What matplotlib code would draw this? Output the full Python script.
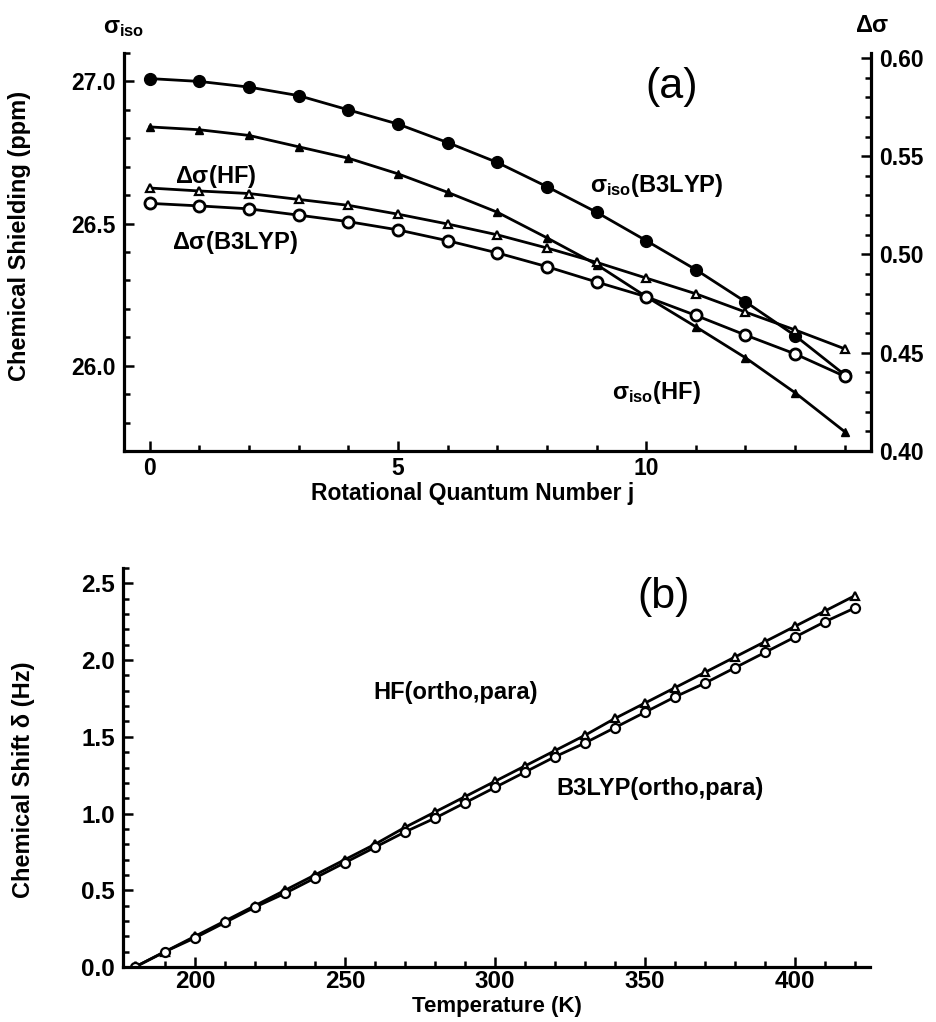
import matplotlib
matplotlib.use('Agg')
import matplotlib.pyplot as plt
from matplotlib.ticker import MultipleLocator

plt.rcParams['font.family'] = ['Liberation Sans', 'DejaVu Sans']
plt.rcParams['font.weight'] = 'bold'
plt.rcParams['mathtext.fontset'] = 'custom'
plt.rcParams['mathtext.rm'] = 'Liberation Sans:bold'
plt.rcParams['mathtext.it'] = 'Liberation Sans:bold'
plt.rcParams['mathtext.bf'] = 'Liberation Sans:bold'

# panel (a): shielding vs rotational quantum number j
j = list(range(15))
iso_b3lyp = [27.01, 27.00, 26.98, 26.95, 26.90, 26.85, 26.785, 26.715, 26.63,
             26.54, 26.44, 26.338, 26.225, 26.106, 25.968]
iso_hf = [26.84, 26.83, 26.81, 26.77, 26.73, 26.675, 26.61, 26.54, 26.45,
          26.356, 26.243, 26.137, 26.028, 25.905, 25.768]
dsig_hf = [0.5338, 0.5323, 0.531, 0.528, 0.525, 0.5205, 0.5155, 0.510, 0.5033,
           0.496, 0.488, 0.480, 0.4707, 0.4616, 0.452]
dsig_b3lyp = [0.526, 0.5247, 0.5232, 0.520, 0.5167, 0.5125, 0.507, 0.5008, 0.4938,
              0.486, 0.4785, 0.469, 0.459, 0.4494, 0.438]

# panel (b): chemical shift vs temperature
temp = [180, 190, 200, 210, 220, 230, 240, 250, 260, 270, 280, 290, 300,
        310, 320, 330, 340, 350, 360, 370, 380, 390, 400, 410, 420]
shift_hf = [0.00, 0.10, 0.20, 0.30, 0.40, 0.50, 0.60, 0.70, 0.80, 0.91, 1.01,
            1.11, 1.21, 1.31, 1.41, 1.51, 1.62, 1.72, 1.82, 1.92, 2.02, 2.12,
            2.22, 2.32, 2.42]
shift_b3lyp = [0.00, 0.10, 0.19, 0.29, 0.39, 0.48, 0.58, 0.68, 0.78, 0.88, 0.97,
               1.07, 1.17, 1.27, 1.37, 1.46, 1.56, 1.66, 1.76, 1.85, 1.95, 2.05,
               2.15, 2.25, 2.34]

W, H = 937, 1022
fig = plt.figure(figsize=(W / 100, H / 100), dpi=100)


def px(x, y):
    # pixel position (from top-left) -> figure fraction
    return x / W, 1 - y / H


def box(l, t, r, b):
    return [l / W, 1 - b / H, (r - l) / W, (b - t) / H]


def style(ax, sides):
    for s in ['top', 'bottom', 'left', 'right']:
        ax.spines[s].set_visible(s in sides)
        ax.spines[s].set_linewidth(2.3)
    ax.tick_params(which='both', direction='in', width=1.8, labelsize=16.5, pad=6)
    ax.tick_params(which='major', length=7)
    ax.tick_params(which='minor', length=4)
    for lab in ax.get_xticklabels() + ax.get_yticklabels():
        lab.set_fontweight('bold')


lw = 2.0
# ---- panel (a)
ax = fig.add_axes(box(124, 53, 871, 451))
ax.plot(j, iso_b3lyp, '-o', color='black', lw=lw, ms=8.5)
ax.plot(j, iso_hf, '-^', color='black', lw=lw, ms=6)
ax.set_xlim(-0.52, 14.53)
ax.set_ylim(25.70, 27.10)
ax.xaxis.set_major_locator(MultipleLocator(5))
ax.xaxis.set_minor_locator(MultipleLocator(1))
ax.yaxis.set_minor_locator(MultipleLocator(0.1))
ax.set_yticks([26.0, 26.5, 27.0])
ax.set_yticklabels(['26.0', '26.5', '27.0'])
style(ax, ['left', 'bottom'])
ax.tick_params(axis='y', right=False)
ax.tick_params(axis='x', pad=4)

ax2 = ax.twinx()
ax2.plot(j, dsig_hf, '-^', color='black', mfc='white', lw=lw, ms=6, mew=1.6)
ax2.plot(j, dsig_b3lyp, '-o', color='black', mfc='white', lw=lw, ms=8, mew=2.0)
ax2.set_ylim(0.40, 0.6025)
ax2.yaxis.set_minor_locator(MultipleLocator(0.01))
ax2.set_yticks([0.40, 0.45, 0.50, 0.55, 0.60])
ax2.set_yticklabels(['0.40', '0.45', '0.50', '0.55', '0.60'])
style(ax2, ['right'])

fs = 17
fig.text(*px(103, 33), r'$\sigma_{iso}$', fontsize=fs, ha='left', va='baseline')
fig.text(*px(855, 32), r'$\Delta\sigma$', fontsize=fs, ha='left', va='baseline')
fig.text(*px(672, 98), '(a)', fontsize=31, fontweight='normal', ha='center', va='baseline')
fig.text(*px(175, 183), r'$\Delta\sigma$(HF)', fontsize=fs, ha='left', va='baseline')
fig.text(*px(172, 249), r'$\Delta\sigma$(B3LYP)', fontsize=fs, ha='left', va='baseline')
fig.text(*px(590, 192), r'$\sigma_{iso}$(B3LYP)', fontsize=fs, ha='left', va='baseline')
fig.text(*px(612, 399), r'$\sigma_{iso}$(HF)', fontsize=fs, ha='left', va='baseline')
fig.text(*px(20, 236), 'Chemical Shielding (ppm)', fontsize=fs, rotation=90,
         ha='center', va='center')
fig.text(*px(473, 500), 'Rotational Quantum Number j', fontsize=16.5,
         ha='center', va='baseline')

# ---- panel (b)
bx = fig.add_axes(box(123, 568, 870, 967))
bx.plot(temp, shift_hf, '-^', color='black', mfc='white', lw=lw, ms=6, mew=1.6)
bx.plot(temp, shift_b3lyp, '-o', color='black', mfc='white', lw=lw, ms=6.5, mew=1.6)
bx.set_xlim(176, 425)
bx.set_ylim(0, 2.6)
bx.xaxis.set_major_locator(MultipleLocator(50))
bx.xaxis.set_minor_locator(MultipleLocator(10))
bx.set_yticks([0.0, 0.5, 1.0, 1.5, 2.0, 2.5])
bx.set_yticklabels(['0.0', '0.5', '1.0', '1.5', '2.0', '2.5'])
bx.yaxis.set_minor_locator(MultipleLocator(0.1))
style(bx, ['left', 'bottom'])
bx.tick_params(axis='both', labelsize=17.5)
bx.tick_params(axis='x', pad=2.5)

fig.text(*px(664, 608), '(b)', fontsize=31, fontweight='normal', ha='center', va='baseline')
fig.text(*px(373, 699), 'HF(ortho,para)', fontsize=fs, ha='left', va='baseline')
fig.text(*px(556, 795), 'B3LYP(ortho,para)', fontsize=fs, ha='left', va='baseline')
fig.text(*px(24, 780), 'Chemical Shift δ (Hz)', fontsize=fs, rotation=90,
         ha='center', va='center')
fig.text(*px(497, 1012), 'Temperature (K)', fontsize=16, ha='center', va='baseline')

fig.savefig('out.png', dpi=100)
